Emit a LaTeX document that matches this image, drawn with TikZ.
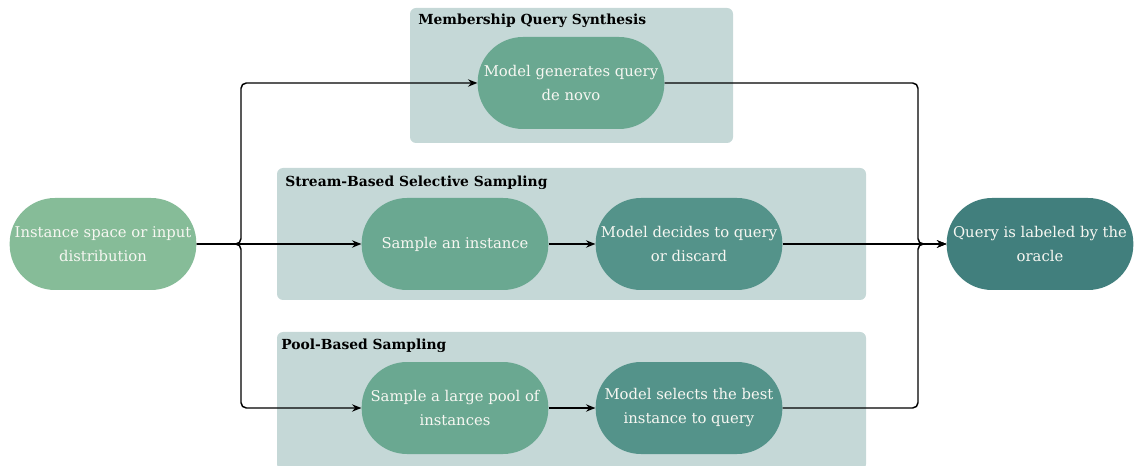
\documentclass[tikz,border=0pt]{standalone}
\usepackage{fontspec}
\setmainfont{DejaVu Serif}
\usepackage{tikz}
\usetikzlibrary{arrows.meta}

\definecolor{groupbg}{HTML}{C5D8D7}
\definecolor{inputfill}{HTML}{86BC98}
\definecolor{stepfill}{HTML}{6AA891}
\definecolor{decidefill}{HTML}{54938A}
\definecolor{oraclefill}{HTML}{417F7D}
\definecolor{pilltext}{HTML}{F7F7F2}

\begin{document}
\begin{tikzpicture}[x=0.75pt, y=-0.75pt,
    pill/.style={rectangle, rounded corners=34pt, minimum width=140pt, minimum height=69pt,
      inner sep=0pt, align=center, text=pilltext, font=\fontsize{11.1}{18}\selectfont},
    group/.style={fill=groupbg, rounded corners=4.5pt},
    grouptitle/.style={anchor=west, inner sep=0pt, font=\fontsize{10.4}{14}\selectfont\bfseries},
    link/.style={line width=1.1pt, rounded corners=4pt, -{Stealth[length=7pt,width=5.5pt]}}]
    \useasboundingbox (0,0) rectangle (1134,466);
    % group backgrounds
    \fill [group] (410,8) rectangle (733,143);
    \fill [group] (277,168) rectangle (866,300);
    \fill [group] (277,332) rectangle (866,470);
    \node [grouptitle] (mqs) at (418,21) {Membership Query Synthesis};
    \node [grouptitle] (sbss) at (285,183) {Stream-Based Selective Sampling};
    \node [grouptitle] (pbs) at (281,346) {Pool-Based Sampling};
    % steps
    \node [pill, fill=inputfill] (input) at (103,244) {Instance space or input\\distribution};
    \node [pill, fill=stepfill] (generate) at (571,83) {Model generates query\\de novo};
    \node [pill, fill=stepfill] (sample) at (455,244) {Sample an instance};
    \node [pill, fill=decidefill] (decide) at (689,244) {Model decides to query\\or discard};
    \node [pill, fill=stepfill] (pool) at (455,408) {Sample a large pool of\\instances};
    \node [pill, fill=decidefill] (select) at (689,408) {Model selects the best\\instance to query};
    \node [pill, fill=oraclefill] (oracle) at (1040,244) {Query is labeled by the\\oracle};
    % fan out
    \draw [link] (input.east) -- (241,244) |- (generate.west);
    \draw [link] (input.east) -- (sample.west);
    \draw [link] (input.east) -- (241,244) |- (pool.west);
    \draw [link] (sample) -- (decide);
    \draw [link] (pool) -- (select);
    % fan in
    \draw [link] (generate.east) -- (918,83) |- (oracle.west);
    \draw [link] (decide) -- (oracle);
    \draw [link] (select.east) -- (918,408) |- (oracle.west);
\end{tikzpicture}
\end{document}
